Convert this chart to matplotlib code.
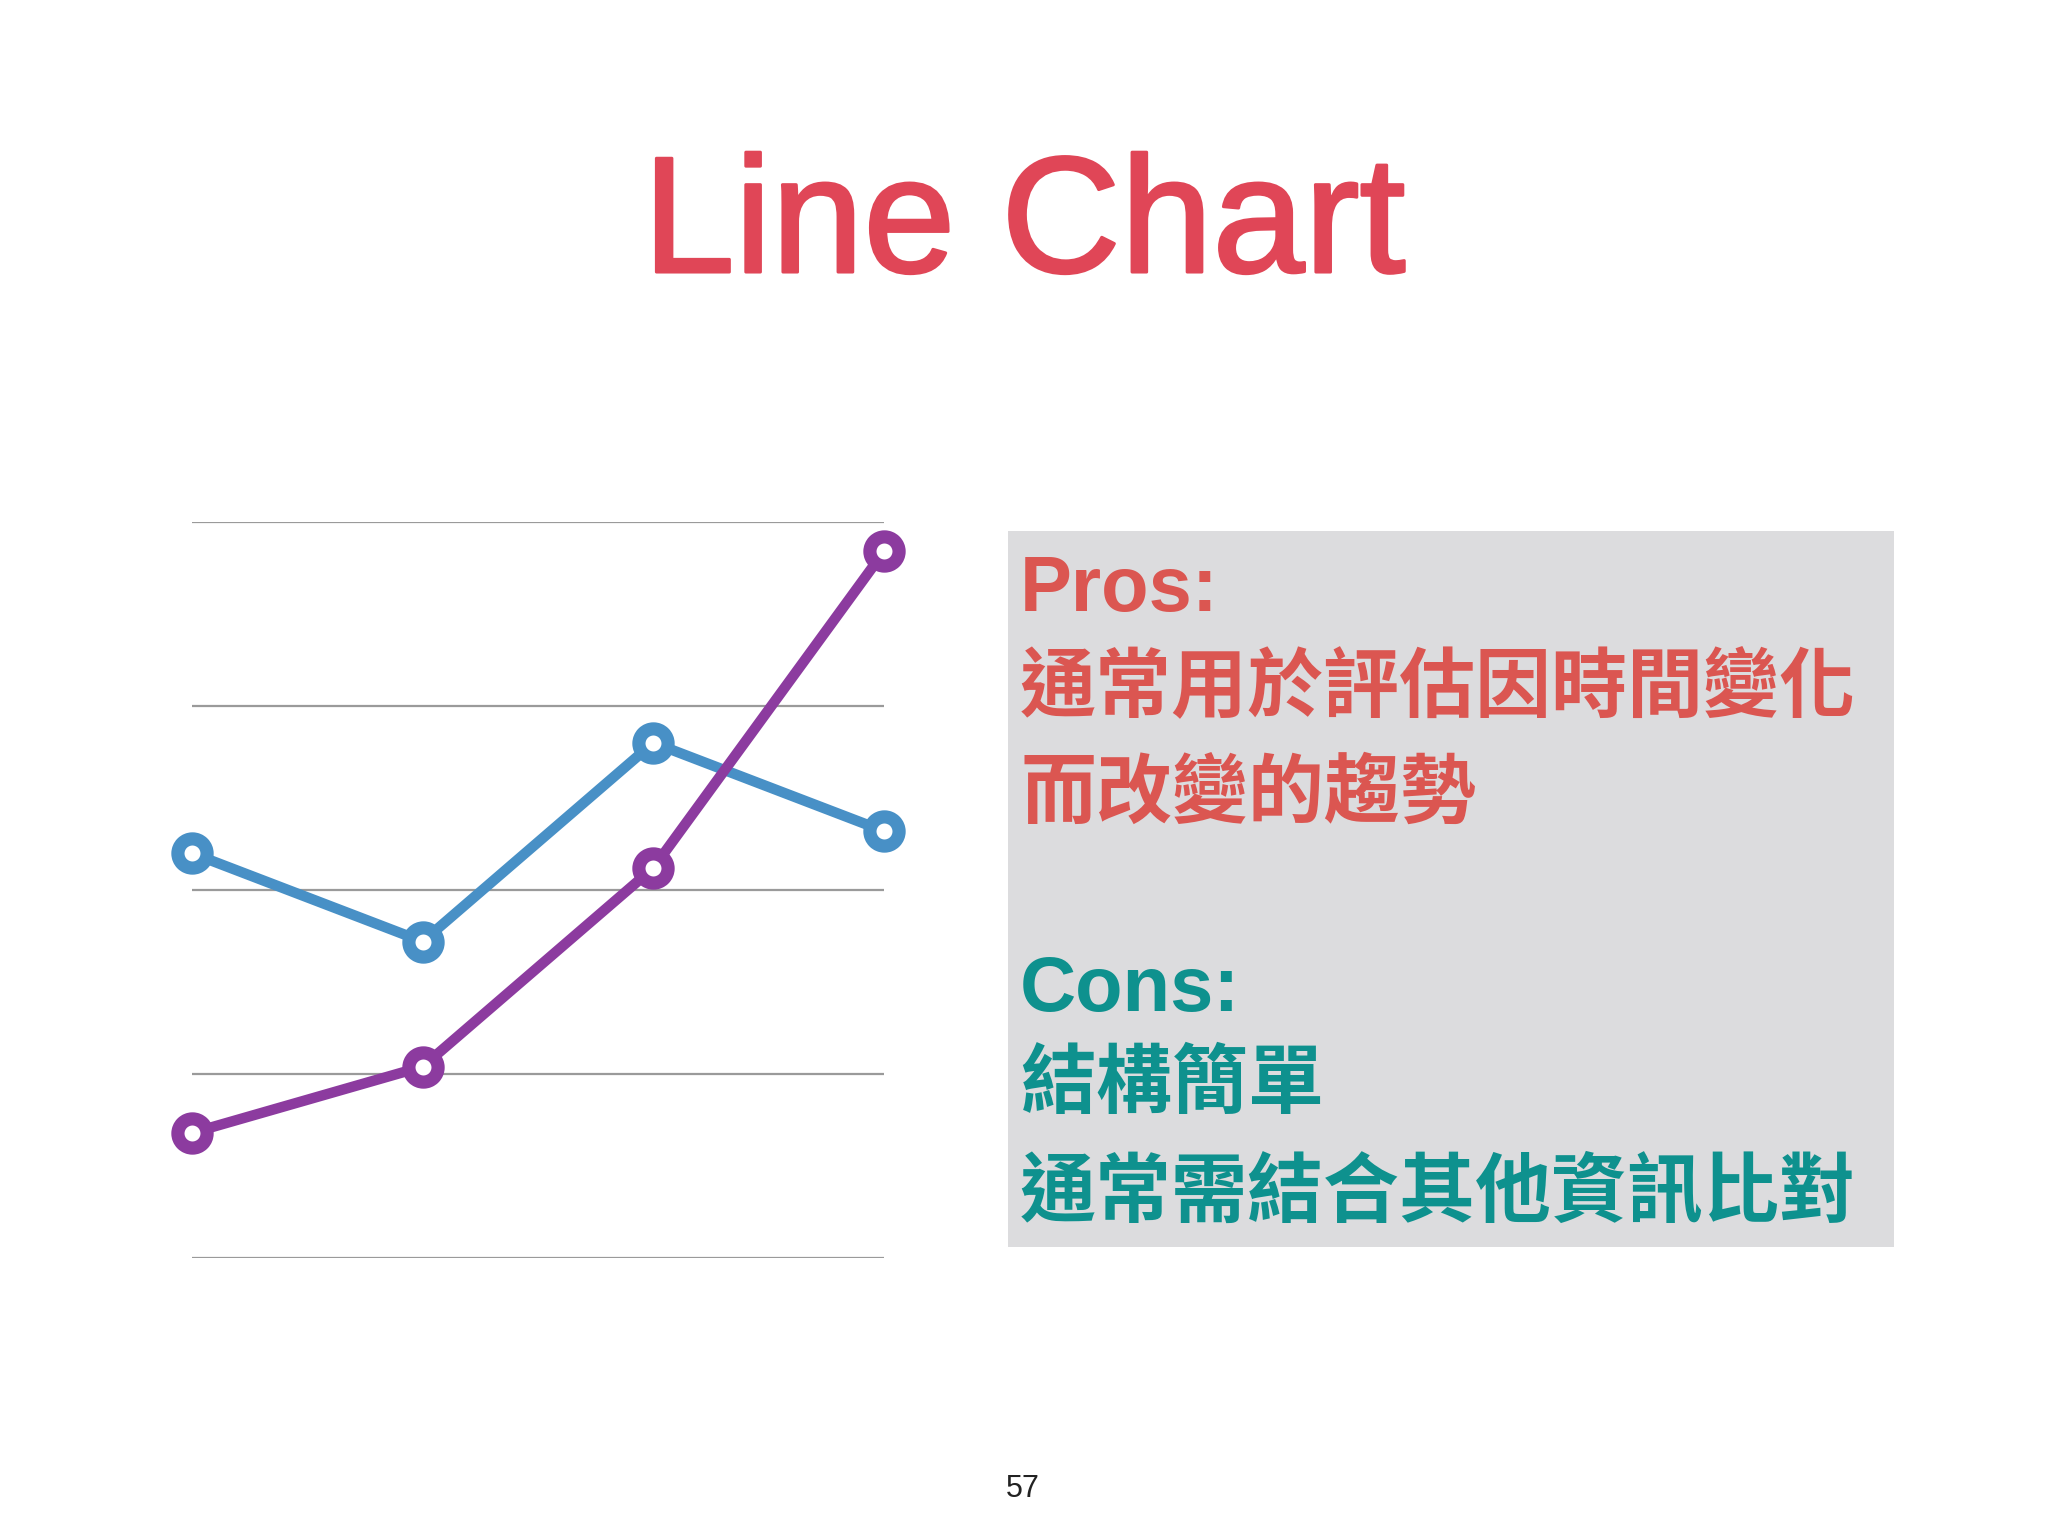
import matplotlib
matplotlib.use("Agg")
import matplotlib.pyplot as plt
import matplotlib.patheffects as pe
from matplotlib.patches import Rectangle

# ---- data ----
x_labels = ["1", "2", "3", "4"]
blue_values = [55, 43, 70, 58]
purple_values = [17, 26, 53, 96]
grid_ticks = [0, 25, 50, 75, 100]

title = "Line Chart"
pros_head = "Pros:"
pros_lines = ["通常用於評估因時間變化", "而改變的趨勢"]
cons_head = "Cons:"
cons_lines = ["結構簡單", "通常需結合其他資訊比對"]
page_no = "57"

W, H = 2048, 1536
fig = plt.figure(figsize=(W / 100, H / 100), dpi=100)
fig.patch.set_facecolor("white")

def fx(px):
    return px / W

def fy(py):
    return 1 - py / H

# chart axes
ax = fig.add_axes([fx(192), fy(1258), fx(884) - fx(192), fy(522) - fy(1258)])
ax.set_xlim(0, len(x_labels) - 1)
ax.set_ylim(grid_ticks[0], grid_ticks[-1])
for s in ax.spines.values():
    s.set_visible(False)
ax.set_xticks([])
ax.set_yticks(grid_ticks)
ax.tick_params(axis="y", length=0, labelleft=False)
ax.yaxis.grid(True, color="#9a9a9a", linewidth=1.6)
ax.set_axisbelow(True)
ax.patch.set_alpha(0)

xs = list(range(len(x_labels)))
ax.plot(xs, blue_values, color="#4890C6", linewidth=7.5, marker="o",
        markersize=21, markeredgewidth=9.5, markerfacecolor="white",
        markeredgecolor="#4890C6", clip_on=False, zorder=3)
ax.plot(xs, purple_values, color="#8C3B9F", linewidth=7.5, marker="o",
        markersize=21, markeredgewidth=9.5, markerfacecolor="white",
        markeredgecolor="#8C3B9F", clip_on=False, zorder=4)

# title
fig.text(0.5, fy(272), title, ha="center", va="baseline",
         fontsize=119, color="#E04657", family=["Liberation Sans", "DejaVu Sans"],
         path_effects=[pe.Stroke(linewidth=2.2, foreground="#E04657"), pe.Normal()])

# gray box
fig.patches.append(Rectangle((fx(1008), fy(1247)), fx(1894) - fx(1008), fy(531) - fy(1247),
                             transform=fig.transFigure, facecolor="#DCDCDE",
                             edgecolor="none", zorder=0))

fam = ["Liberation Sans", "Noto Sans CJK TC", "DejaVu Sans"]
red = "#DB5651"
teal = "#0E918E"
tx = fx(1020)
fig.text(tx, fy(591), pros_head, ha="left", va="center", fontsize=56,
         fontweight="bold", color=red, family=fam)
for y, t in zip([690, 797], pros_lines):
    fig.text(tx, fy(y), t, ha="left", va="center", fontsize=54.7,
             fontweight="bold", color=red, family=fam)
fig.text(tx, fy(990), cons_head, ha="left", va="center", fontsize=56,
         fontweight="bold", color=teal, family=fam)
for y, t in zip([1087, 1195], cons_lines):
    fig.text(tx, fy(y), t, ha="left", va="center", fontsize=54.7,
             fontweight="bold", color=teal, family=fam)

fig.text(fx(1023), fy(1489), page_no, ha="center", va="center", fontsize=22,
         color="#222222", family=["Liberation Sans", "DejaVu Sans"])

fig.savefig("out.png", dpi=100)
